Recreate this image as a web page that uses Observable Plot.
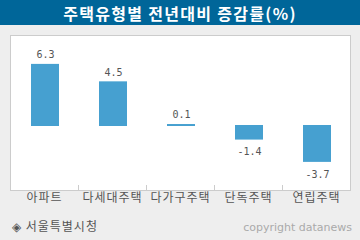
<!DOCTYPE html>
<html><head><meta charset="utf-8">
<script src="https://cdn.jsdelivr.net/npm/d3@7"></script>
<script src="https://cdn.jsdelivr.net/npm/@observablehq/plot@0.6"></script>
<style>
html,body{margin:0;padding:0;}
body{width:360px;height:240px;background:#eeeeee;overflow:hidden;font-family:"Noto Sans CJK KR",sans-serif;position:relative}
#title{height:25px;background:#006699;color:#fff;font-size:16px;font-weight:bold;text-align:center;line-height:26px;white-space:nowrap;letter-spacing:1.3px}
#chart{position:absolute;left:0;top:25px;}
#chart g[aria-label="x-axis tick label"] text{letter-spacing:1px}
#source{position:absolute;left:12px;top:217px;font-size:12px;color:#555;line-height:18px;white-space:nowrap;letter-spacing:1px}
#copy{position:absolute;right:8px;top:220px;font-size:11px;color:#aaa;font-family:"DejaVu Sans",sans-serif;line-height:16px;white-space:nowrap}
</style></head>
<body>
<div id="title"></div>
<div id="chart"></div>
<div id="source"></div>
<div id="copy"></div>
<script>
const titleText = "주택유형별 전년대비 증감률(%)";
const categories = ["아파트", "다세대주택", "다가구주택", "단독주택", "연립주택"];
const values = [6.3, 4.5, 0.1, -1.4, -3.7];
const sourceText = "◈ 서울특별시청";
const copyrightText = "copyright datanews";

const data = categories.map((c, i) => ({category: c, value: values[i]}));
document.getElementById("title").textContent = titleText;
document.getElementById("source").textContent = sourceText;
document.getElementById("copy").textContent = copyrightText;

const plot = Plot.plot({
  width: 360, height: 190,
  marginTop: 10, marginBottom: 25, marginLeft: 10, marginRight: 10,
  style: {background: "transparent", fontFamily: "'Noto Sans CJK KR', sans-serif", fontSize: "12px", color: "#555", overflow: "visible"},
  x: {domain: categories, paddingInner: 0.588, paddingOuter: 0.294, label: null},
  y: {domain: [-6.65, 9.33], axis: null},
  marks: [
    Plot.frame({fill: "white", stroke: "#cccccc"}),
    Plot.tickX(categories.slice(1), {x: d => d, dx: -34, insetTop: 150, stroke: "#cccccc"}),
    Plot.barY(data, {x: "category", y: "value", fill: "#46a0d0", insetTop: -0.5, insetBottom: -0.5, dx: 1}),
    Plot.text(data.filter(d => d.value >= 0), {x: "category", y: "value", text: d => d.value.toFixed(1), dy: -10, dx: 1, fontFamily: "DejaVu Sans Mono", fontSize: 10, fill: "#555"}),
    Plot.text(data.filter(d => d.value < 0), {x: "category", y: "value", text: d => d.value.toFixed(1), dy: 12.5, dx: 1, fontFamily: "DejaVu Sans Mono", fontSize: 10, fill: "#555"}),
    Plot.axisX({tickSize: 0, tickPadding: 3, fontSize: 12, fill: "#555", label: null})
  ]
});
document.getElementById("chart").appendChild(plot);
</script>
</body></html>
